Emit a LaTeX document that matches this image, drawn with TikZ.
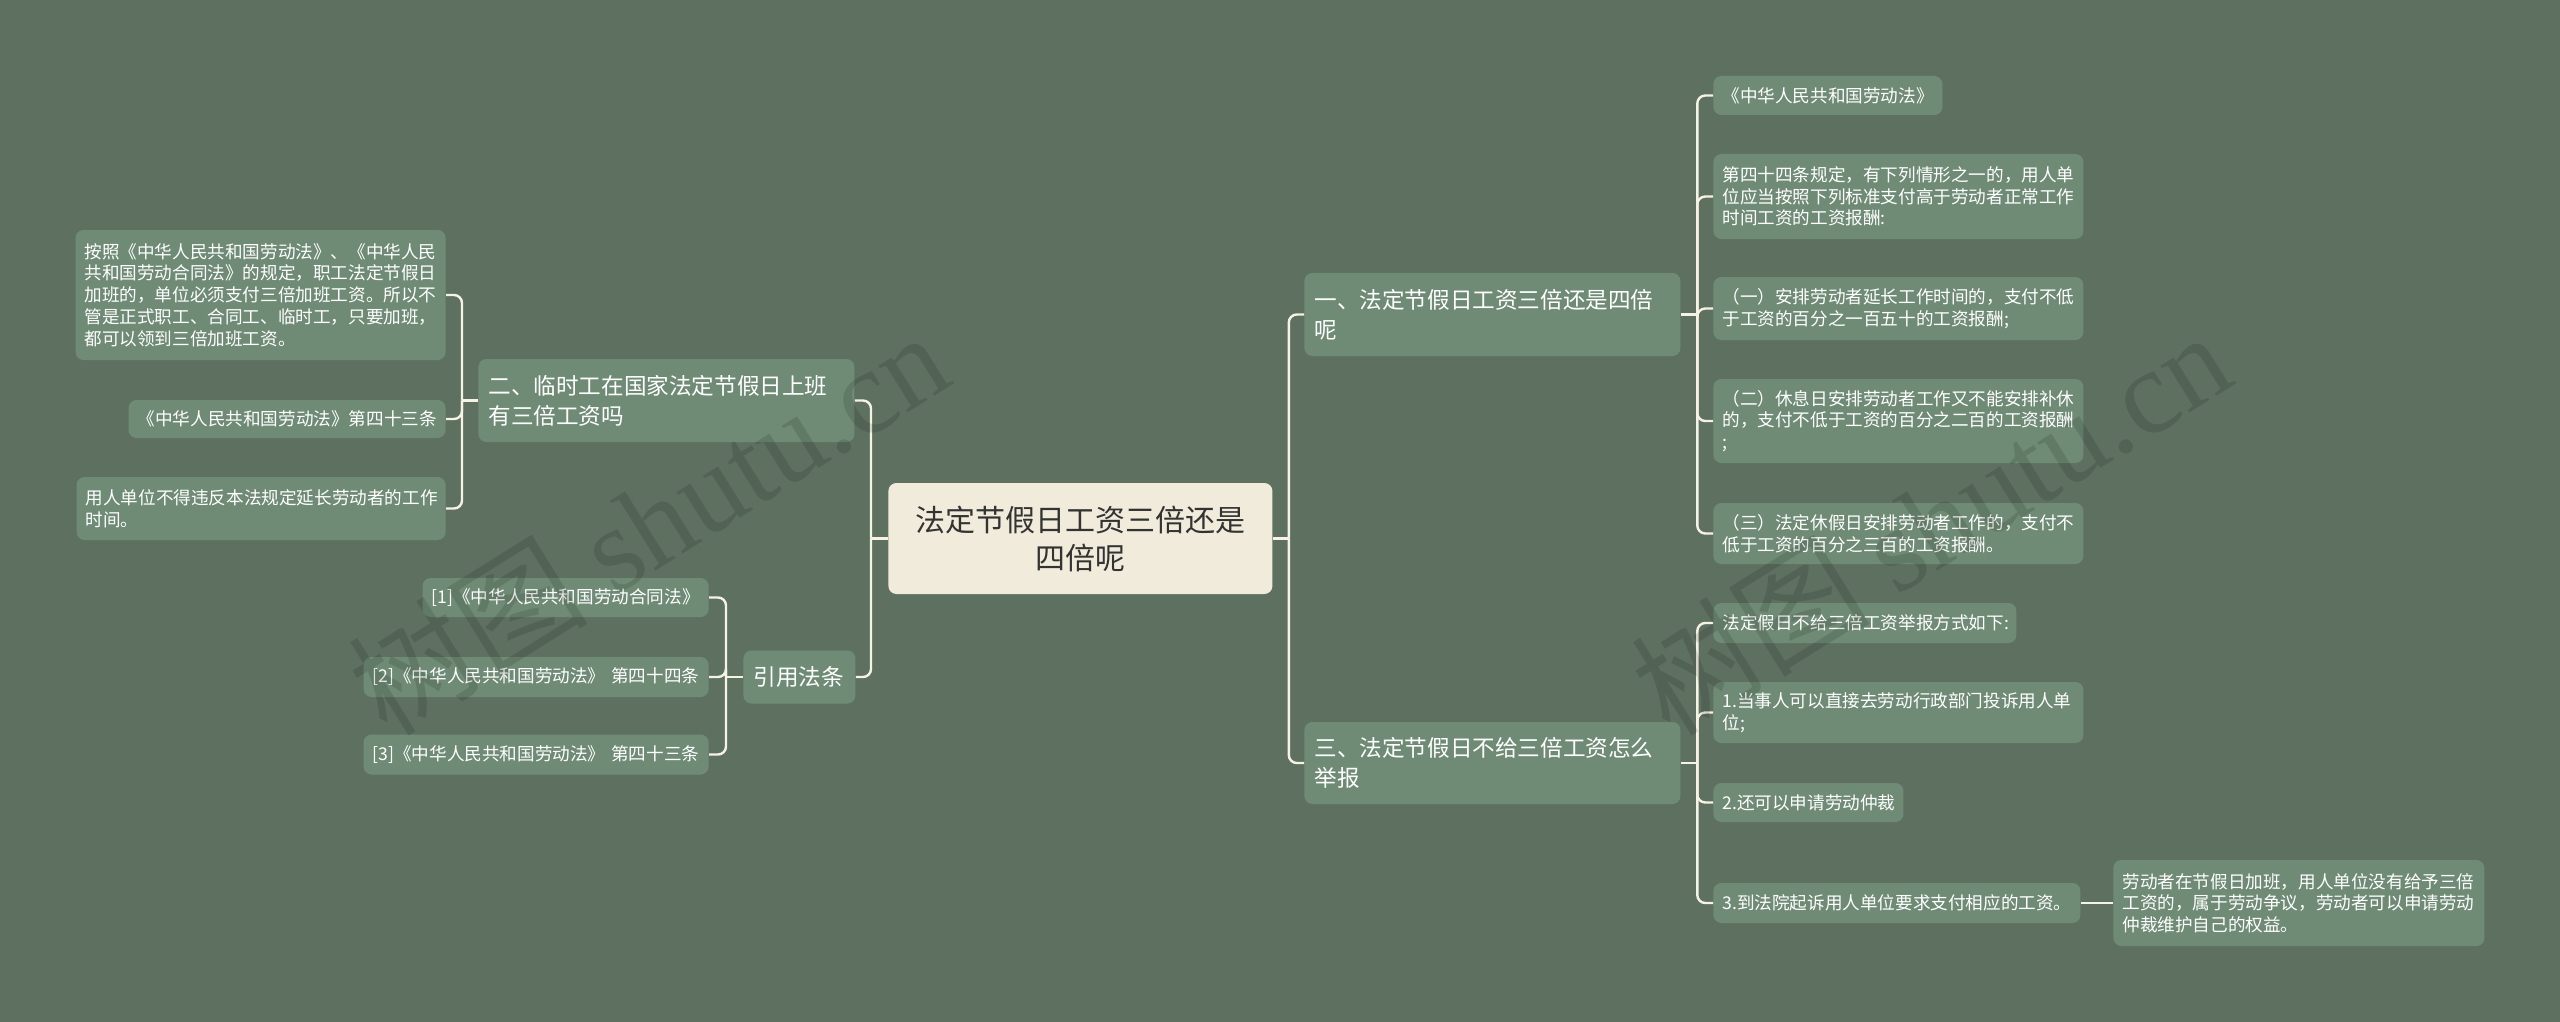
\documentclass[tikz,border=0pt]{standalone}
\usepackage{fontspec}
\setmainfont{Noto Sans CJK SC}
\newfontfamily\markfont{Liberation Serif}
\usetikzlibrary{positioning}
\definecolor{canvasgreen}{RGB}{94,113,97}
\definecolor{boxgreen}{RGB}{111,139,117}
\definecolor{rootcream}{RGB}{240,235,218}
\definecolor{linecream}{RGB}{246,242,228}
\definecolor{inkdark}{RGB}{51,51,51}

\begin{document}
\begin{tikzpicture}[
    x=0.5pt, y=-0.5pt,
    centre/.style={rectangle, fill=rootcream, text=inkdark, rounded corners=4pt, align=center, inner xsep=5pt, font=\fontsize{15pt}{19pt}\selectfont},
    topic/.style={rectangle, fill=boxgreen, text=white, rounded corners=4pt, align=left, inner xsep=5pt, font=\fontsize{11.3pt}{15pt}\selectfont},
    leaf/.style={rectangle, fill=boxgreen, text=white, rounded corners=4pt, align=left, inner xsep=4.5pt, font=\fontsize{8.8pt}{10.85pt}\selectfont},
    conn/.style={draw=linecream, line width=1.2pt, rounded corners=4pt},
    wmark/.style={text=black, text opacity=0.12, rotate=32, font=\fontsize{60pt}{60pt}\selectfont}
]
    \useasboundingbox (0,0) rectangle (2560,1022);
    \fill[canvasgreen] (0,0) rectangle (2560,1022);

    % centre
    \node (root) [centre, text width=182pt, minimum height=55.5pt, anchor=west] at (888,538.5) {法定节假日工资三倍还是\\四倍呢};

    % right branches
    \node (one) [topic, text width=178pt, minimum height=41.5pt, anchor=west] at (1304,314.5) {一、法定节假日工资三倍还是四倍\\呢};
    \node (three) [topic, text width=178pt, minimum height=41pt, anchor=west] at (1304,763) {三、法定节假日不给三倍工资怎么\\举报};

    \node (one1) [leaf, text width=105.5pt, minimum height=19.5pt, anchor=west] at (1713,95.5) {《中华人民共和国劳动法》};
    \node (one2) [leaf, text width=176pt, minimum height=42.5pt, anchor=west] at (1713,196.5) {第四十四条规定，有下列情形之一的，用人单\\位应当按照下列标准支付高于劳动者正常工作\\时间工资的工资报酬:};
    \node (one3) [leaf, text width=176pt, minimum height=31.5pt, anchor=west] at (1713,308.5) {（一）安排劳动者延长工作时间的，支付不低\\于工资的百分之一百五十的工资报酬;};
    \node (one4) [leaf, text width=176pt, minimum height=42pt, anchor=west] at (1713,421) {（二）休息日安排劳动者工作又不能安排补休\\的，支付不低于工资的百分之二百的工资报酬\\;};
    \node (one5) [leaf, text width=176pt, minimum height=30.5pt, anchor=west] at (1713,533.5) {（三）法定休假日安排劳动者工作的，支付不\\低于工资的百分之三百的工资报酬。};

    \node (three1) [leaf, text width=142.5pt, minimum height=20pt, anchor=west] at (1713,623) {法定假日不给三倍工资举报方式如下:};
    \node (three2) [leaf, text width=176pt, minimum height=30.5pt, anchor=west] at (1713,712.5) {1.当事人可以直接去劳动行政部门投诉用人单\\位;};
    \node (three3) [leaf, text width=86pt, minimum height=19.5pt, anchor=west] at (1713,802.5) {2.还可以申请劳动仲裁};
    \node (three4) [leaf, text width=174.5pt, minimum height=20pt, anchor=west] at (1713,903) {3.到法院起诉用人单位要求支付相应的工资。};
    \node (three4a) [leaf, text width=176.5pt, minimum height=43pt, anchor=west] at (2113,903) {劳动者在节假日加班，用人单位没有给予三倍\\工资的，属于劳动争议，劳动者可以申请劳动\\仲裁维护自己的权益。};

    % left branches
    \node (two) [topic, text width=178pt, minimum height=41.5pt, anchor=west] at (478,400.5) {二、临时工在国家法定节假日上班\\有三倍工资吗};
    \node (refs) [topic, text width=46pt, minimum height=26.5pt, anchor=west] at (743,677) {引用法条};

    \node (two1) [leaf, text width=176pt, minimum height=65pt, anchor=east] at (446,295) {按照《中华人民共和国劳动法》、《中华人民\\共和国劳动合同法》的规定，职工法定节假日\\加班的，单位必须支付三倍加班工资。所以不\\管是正式职工、合同工、临时工，只要加班，\\都可以领到三倍加班工资。};
    \node (two2) [leaf, text width=149.5pt, minimum height=19pt, anchor=east] at (446,419) {《中华人民共和国劳动法》第四十三条};
    \node (two3) [leaf, text width=175.5pt, minimum height=31.5pt, anchor=east] at (446,508.5) {用人单位不得违反本法规定延长劳动者的工作\\时间。};

    \node (ref1) [leaf, text width=134pt, minimum height=19.5pt, anchor=east] at (709,597.5) {[1]《中华人民共和国劳动合同法》};
    \node (ref2) [leaf, text width=163.5pt, minimum height=20pt, anchor=east] at (709,677) {[2]《中华人民共和国劳动法》 第四十四条};
    \node (ref3) [leaf, text width=163.5pt, minimum height=20pt, anchor=east] at (709,754.5) {[3]《中华人民共和国劳动法》 第四十三条};

    % connectors
    \draw[conn] (root.east) -- ++(16,0) coordinate (rj);
    \draw[conn] (root.west) -- ++(-17,0) coordinate (lj);
    \foreach \c in {one,three} \draw[conn] (rj) |- (\c.west);
    \foreach \c in {two,refs} \draw[conn] (lj) |- (\c.east);

    \draw[conn] (one.east) -- ++(16.5,0) coordinate (oj);
    \foreach \c in {one1,one2,one3,one4,one5} \draw[conn] (oj) |- (\c.west);
    \draw[conn] (three.east) -- ++(16.5,0) coordinate (hj);
    \foreach \c in {three1,three2,three3,three4} \draw[conn] (hj) |- (\c.west);
    \draw[conn] (three4.east) -- (three4a.west);

    \draw[conn] (two.west) -- ++(-16,0) coordinate (tj);
    \foreach \c in {two1,two2,two3} \draw[conn] (tj) |- (\c.east);
    \draw[conn] (refs.west) -- ++(-17,0) coordinate (fj);
    \foreach \c in {ref1,ref2,ref3} \draw[conn] (fj) |- (\c.east);

    % watermarks
    \node (wm1) [wmark] at (648,522) {树图 {\markfont shutu.cn}};
    \node (wm2) [wmark] at (1930,522) {树图 {\markfont shutu.cn}};
\end{tikzpicture}
\end{document}
